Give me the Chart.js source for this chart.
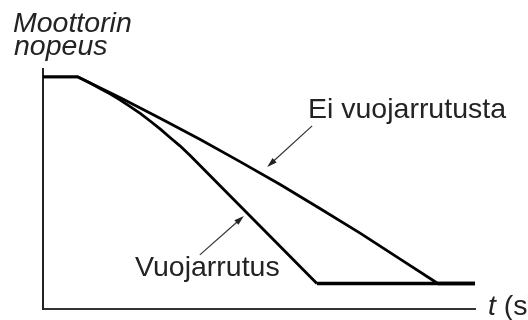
<!DOCTYPE html>
<html>
<head>
<meta charset="utf-8">
<script src="https://cdn.jsdelivr.net/npm/chart.js@4.4.1/dist/chart.umd.min.js"></script>
<style>
  html, body { margin: 0; padding: 0; background: #fff; }
  canvas { display: block; }
</style>
</head>
<body>
<canvas id="c" width="528" height="320"></canvas>
<script>
// Time (arbitrary units 0..100) and motor speed (% of start speed)
const eiTime   = [0, 8.1, 17.8, 27.1, 36.3, 45.6, 54.9, 64.1, 73.4, 82.6, 91.4, 100];
const eiSpeed  = [100, 100, 91.1, 82.2, 73.1, 63.5, 53.6, 43.3, 32.7, 21.6, 11, 11];
const vuoTime  = [0, 8.1, 10.9, 13.2, 15.5, 17.8, 20.1, 22.5, 24.8, 27.1, 29.4, 31.7, 34.0, 63.4, 100];
const vuoSpeed = [100, 100, 97.4, 95.0, 92.7, 90.1, 87.3, 84.3, 81.0, 77.6, 73.9, 70.3, 66.2, 11, 11];

const yLabelLines = ['Moottorin', 'nopeus'];
const xLabelText = 't';
const xLabelUnit = ' (s)';
const labelEi = 'Ei vuojarrutusta';
const labelVuo = 'Vuojarrutus';

// arrow annotations in data units: [tailT, tailV, tipT, tipV]
const arrowEi  = [62.3, 78.9, 51.9, 61.2];
const arrowVuo = [36.3, 23.3, 46.5, 40.1];

const toPts = (xs, ys) => xs.map((x, i) => ({ x, y: ys[i] }));

const FONT = '"Liberation Sans", Arial, sans-serif';
const INK = '#232323';

function drawArrow(ctx, x1, y1, x2, y2) {
  const ang = Math.atan2(y2 - y1, x2 - x1);
  const len = 10, half = 3;
  ctx.save();
  ctx.strokeStyle = '#333';
  ctx.fillStyle = '#222';
  ctx.lineWidth = 1.2;
  ctx.beginPath();
  ctx.moveTo(x1, y1);
  ctx.lineTo(x2 - Math.cos(ang) * len * 0.8, y2 - Math.sin(ang) * len * 0.8);
  ctx.stroke();
  ctx.beginPath();
  ctx.moveTo(x2, y2);
  ctx.lineTo(x2 - Math.cos(ang) * len - Math.sin(ang) * half, y2 - Math.sin(ang) * len + Math.cos(ang) * half);
  ctx.lineTo(x2 - Math.cos(ang) * len + Math.sin(ang) * half, y2 - Math.sin(ang) * len - Math.cos(ang) * half);
  ctx.closePath();
  ctx.fill();
  ctx.restore();
}

const annot = {
  id: 'annot',
  afterDraw(chart) {
    const ctx = chart.ctx;
    const xs = chart.scales.x, ys = chart.scales.y;
    ctx.save();
    ctx.fillStyle = INK;
    ctx.textBaseline = 'alphabetic';
    ctx.font = 'italic 28.5px ' + FONT;
    ctx.fillText(yLabelLines[0], 13, 32);
    ctx.fillText(yLabelLines[1], 14, 55);
    ctx.font = '28.5px ' + FONT;
    ctx.fillText(labelEi, 308, 118);
    ctx.fillText(labelVuo, 135, 276);
    ctx.font = 'italic 28.5px ' + FONT;
    ctx.fillText(xLabelText, 488, 315);
    const tw = ctx.measureText(xLabelText).width;
    ctx.font = '28.5px ' + FONT;
    ctx.fillText(xLabelUnit, 488 + tw, 315);
    ctx.restore();
    for (const a of [arrowEi, arrowVuo]) {
      drawArrow(ctx, xs.getPixelForValue(a[0]), ys.getPixelForValue(a[1]),
                     xs.getPixelForValue(a[2]), ys.getPixelForValue(a[3]));
    }
  }
};

const flatWidth = (c) => (c.p0.parsed.y === c.p1.parsed.y && c.p0.parsed.y < 50) ? 3.5 : undefined;

new Chart(document.getElementById('c'), {
  type: 'line',
  data: {
    datasets: [
      {
        label: labelEi,
        data: toPts(eiTime, eiSpeed),
        borderColor: '#000',
        borderWidth: 2.8,
        borderJoinStyle: 'round',
        pointRadius: 0,
        tension: 0,
        fill: false,
        segment: { borderWidth: flatWidth }
      },
      {
        label: labelVuo,
        data: toPts(vuoTime, vuoSpeed),
        borderColor: '#000',
        borderWidth: 2.8,
        borderJoinStyle: 'round',
        pointRadius: 0,
        tension: 0,
        fill: false,
        segment: { borderWidth: flatWidth }
      }
    ]
  },
  options: {
    responsive: false,
    animation: false,
    layout: { padding: { left: 43, top: 69, right: 53, bottom: 11 } },
    plugins: { legend: { display: false }, tooltip: { enabled: false } },
    scales: {
      x: {
        type: 'linear', min: 0, max: 100,
        ticks: { display: false },
        grid: { display: false, drawTicks: false },
        border: { display: true, color: '#333', width: 2 }
      },
      y: {
        type: 'linear', min: 0, max: 103.4,
        ticks: { display: false },
        grid: { display: false, drawTicks: false },
        border: { display: true, color: '#222', width: 2 }
      }
    }
  },
  plugins: [annot]
});
</script>
</body>
</html>
